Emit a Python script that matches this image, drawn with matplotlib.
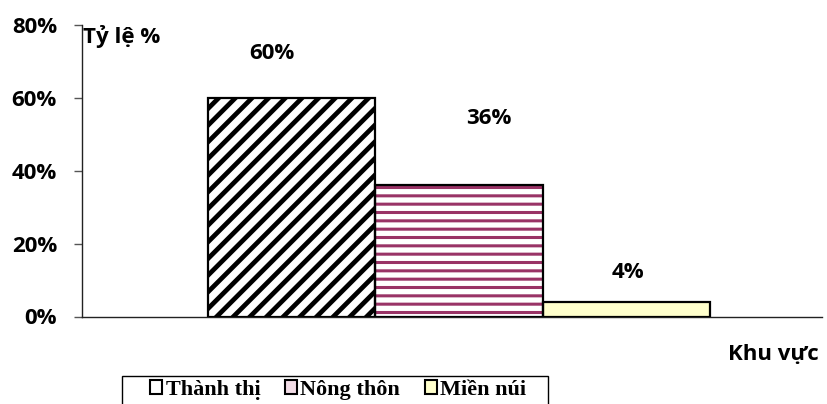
import matplotlib
matplotlib.use("Agg")
import matplotlib.pyplot as plt
from matplotlib.patches import Patch, Rectangle

series = ["Thành thị", "Nông thôn", "Miền núi"]
values = [60, 36, 4]
value_labels = ["60%", "36%", "4%"]
y_ticks = [0, 20, 40, 60, 80]
y_ticklabels = ["0%", "20%", "40%", "60%", "80%"]

# styling
face_colors = ["white", "white", "#FFFFCC"]
hatch_colors = ["black", "#993366", "none"]
hatches = ["//", "--", ""]
hatch_widths = [3.4, 2.2, 1.0]
legend_fill = ["white", "#F2DCE6", "#FFFFCC"]
label_offsets_px = [(-19.5, 44), (30, 67), (1.5, 29)]

FONT = "Open Sans"

fig = plt.figure(figsize=(8.28, 4.04), dpi=100)
ax = fig.add_axes([82 / 828, 1 - 316.5 / 404, (822 - 82) / 828, (316.5 - 24.7) / 404])

xs = list(range(len(values)))
for i, v in enumerate(values):
    with plt.rc_context({"hatch.linewidth": hatch_widths[i]}):
        if hatches[i]:
            b = ax.bar(xs[i], v, width=1.0, color=face_colors[i], hatch=hatches[i],
                       edgecolor=hatch_colors[i], linewidth=0, zorder=2)
        else:
            b = ax.bar(xs[i], v, width=1.0, color=face_colors[i], linewidth=0, zorder=2)
    for p in b.patches:
        if hasattr(p, "set_hatch_linewidth"):
            p.set_hatch_linewidth(hatch_widths[i])
    ax.bar(xs[i], v, width=1.0, fill=False, edgecolor="black", linewidth=1.6, zorder=3)
    dx, dy = label_offsets_px[i]
    ax.annotate(value_labels[i], (xs[i], v), xytext=(dx * 0.72, dy * 0.72),
                textcoords="offset points", ha="center", va="center",
                fontsize=16, fontweight="bold", family=FONT)

ax.set_xlim(-1.253, 3.17)
ax.set_ylim(0, 80)
ax.set_yticks(y_ticks)
ax.set_yticklabels(y_ticklabels, fontsize=16, fontweight="bold", family=FONT)
ax.tick_params(axis="y", length=6, width=1, color="#555555", pad=12)
ax.set_xticks([])
for s in ["top", "right"]:
    ax.spines[s].set_visible(False)
for s in ["left", "bottom"]:
    ax.spines[s].set_color("#222222")
    ax.spines[s].set_linewidth(1)

fig.text(83 / 828, 1 - 37 / 404, "Tỷ lệ %", fontsize=16, fontweight="bold",
         family=FONT, ha="left", va="center")
fig.text(819 / 828, 1 - 355 / 404, "Khu vực", fontsize=16, fontweight="bold",
         family=FONT, ha="right", va="center")

# legend frame (bottom runs off the figure as in the reference)
fig.patches.append(Rectangle((122 / 828, -0.05), (548 - 122) / 828, 0.05 + 1 - 376 / 404,
                             transform=fig.transFigure, fill=False, edgecolor="black",
                             linewidth=1))
handles = [Patch(facecolor=legend_fill[i], edgecolor="black", linewidth=1.5, label=series[i])
           for i in range(len(series))]
leg = fig.legend(handles=handles, loc="upper left", bbox_to_anchor=(150 / 828, 1 - 380 / 404),
                 ncol=3, frameon=False,
                 prop={"family": "Liberation Serif", "weight": "bold", "size": 16},
                 handlelength=0.55, handleheight=0.55, handletextpad=0.15,
                 columnspacing=1.1, borderpad=0, borderaxespad=0)

fig.savefig("out.png", dpi=100)
